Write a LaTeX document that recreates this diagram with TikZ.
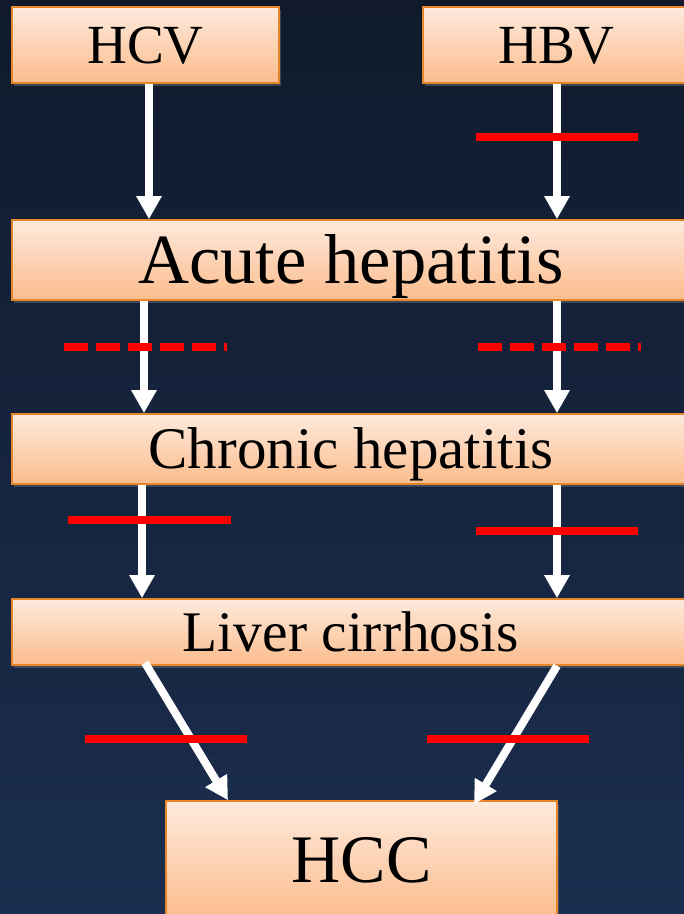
\documentclass[tikz,border=0pt]{standalone}
\usepackage{fontspec}
\setmainfont{Liberation Serif}
\usetikzlibrary{arrows.meta,shadows}
\definecolor{navytop}{HTML}{101A2C}
\definecolor{navybot}{HTML}{1B2E4F}
\definecolor{peachtop}{HTML}{FEEADD}
\definecolor{peachbot}{HTML}{FBBC8C}
\definecolor{peachedge}{HTML}{E6862A}

\begin{document}
\begin{tikzpicture}[x=.5pt,y=-.5pt,
  box/.style={draw=peachedge,line width=.8pt,top color=peachtop,bottom color=peachbot,inner sep=0pt,
    text depth=0pt,drop shadow={opacity=.4,shadow xshift=1pt,shadow yshift=-1.5pt}},
  virus/.style={box,minimum width=133.5pt,minimum height=38pt,text height=18.3pt,font=\fontsize{27.6}{31}\selectfont},
  stage/.style={box,minimum width=339pt,text height=19pt,font=\fontsize{28.7}{32}\selectfont},
  flow/.style={draw=white,line width=4pt,-{Triangle[width=12pt,length=11.5pt]}},
  stopbar/.style={draw=red,line width=4pt},
  partbar/.style={stopbar,dash pattern=on 12pt off 4pt}]
  \useasboundingbox (0,0) rectangle (684,914);
  \shade[top color=navytop,bottom color=navybot] (0,0) rectangle (684,914);

  % boxes
  \node[virus] (hcv) at (145.5,45) {HCV};
  \node[virus] (hbv) at (556.5,45) {HBV};
  \node[stage,minimum height=40pt,text height=23.3pt,font=\fontsize{35.3}{39}\selectfont] (acute) at (351,260) {Acute hepatitis};
  \node[stage,minimum height=35pt,text height=19.5pt,font=\fontsize{29.5}{33}\selectfont] (chronic) at (351,449) {Chronic hepatitis};
  \node[stage,minimum height=33pt] (liver) at (351,632) {Liver cirrhosis};
  \node[box,minimum width=195.5pt,minimum height=58.5pt,text height=22.5pt,font=\fontsize{34}{38}\selectfont] (hcc) at (361.5,859.5) {HCC};

  % lanes
  \coordinate (la) at (149,0);
  \coordinate (lb) at (144,0);
  \coordinate (lc) at (142,0);
  \coordinate (ra) at (557,0);

  \draw[flow] (la |- hcv.south) -- (la |- acute.north);
  \draw[flow] (ra |- hbv.south) -- (ra |- acute.north);
  \draw[flow] (lb |- acute.south) -- (lb |- chronic.north);
  \draw[flow] (ra |- acute.south) -- (ra |- chronic.north);
  \draw[flow] (lc |- chronic.south) -- (lc |- liver.north);
  \draw[flow] (ra |- chronic.south) -- (ra |- liver.north);
  \draw[flow] ([xshift=-103pt,yshift=1.5pt]liver.south) -- ([xshift=-66.75pt]hcc.north);
  \draw[flow] ([xshift=103pt]liver.south) -- ([xshift=56.25pt,yshift=-2pt]hcc.north);

  % blocked steps
  \draw[stopbar] (476,137) -- (638,137);
  \draw[partbar] (64,347) -- (227,347);
  \draw[partbar] (478,347) -- (641,347);
  \draw[stopbar] (68,520) -- (231,520);
  \draw[stopbar] (476,531) -- (638,531);
  \draw[stopbar] (85,739) -- (247,739);
  \draw[stopbar] (427,739) -- (589,739);
\end{tikzpicture}
\end{document}
